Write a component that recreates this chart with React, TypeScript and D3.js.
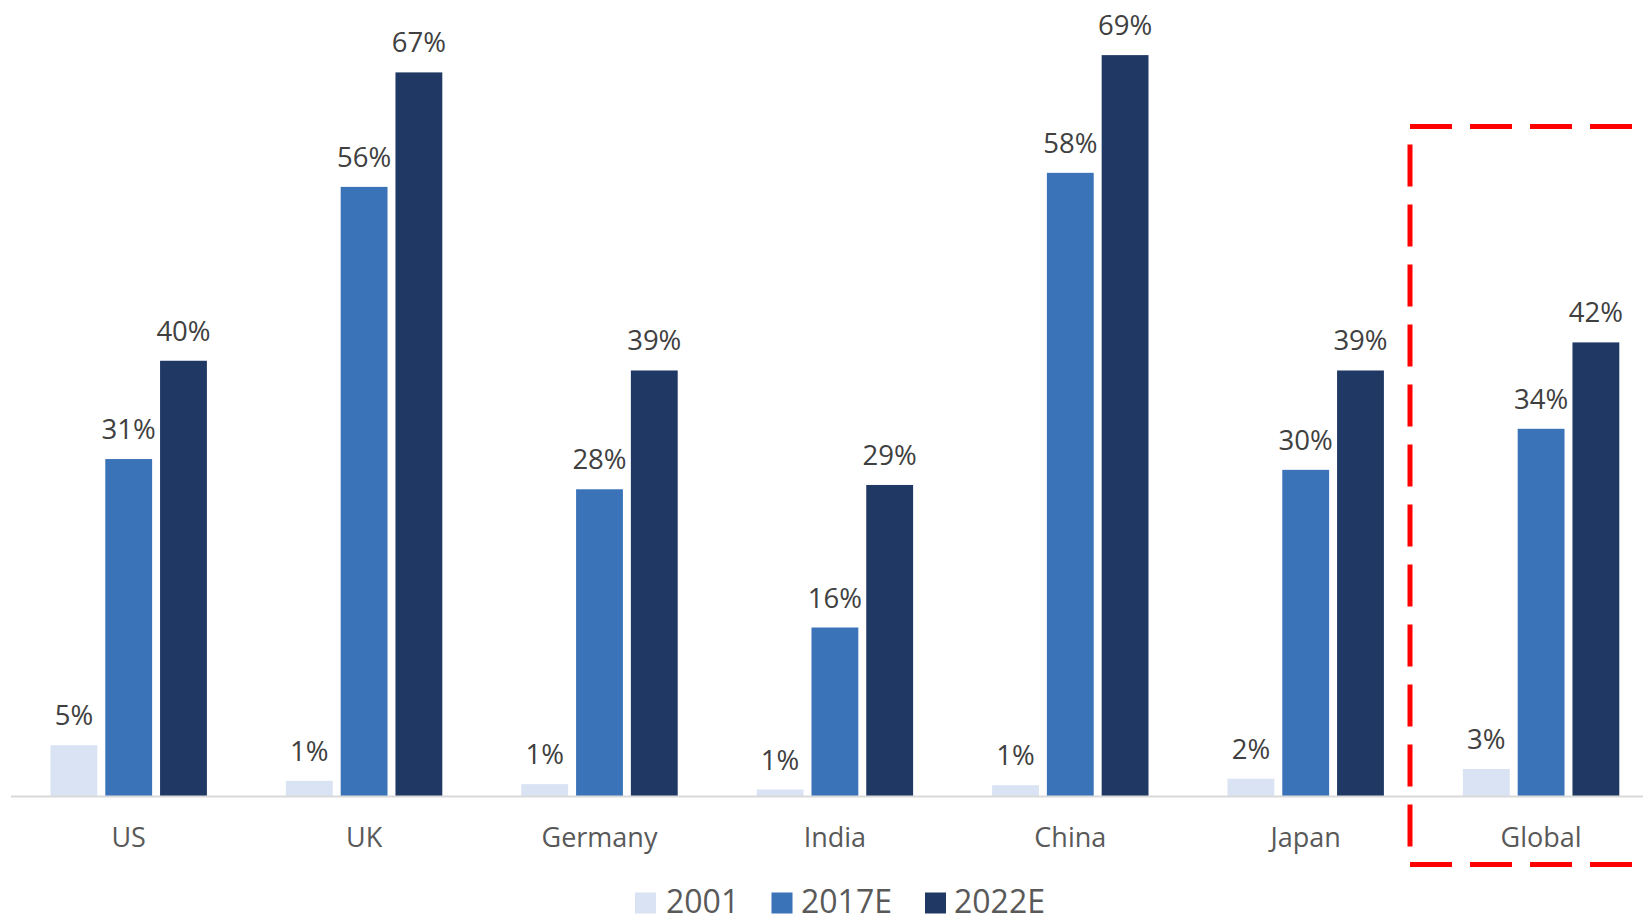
import React from "react";
import * as d3 from "d3";

const categories = ["US", "UK", "Germany", "India", "China", "Japan", "Global"];
const seriesNames = ["2001", "2017E", "2022E"];
const values2001 = [4.7, 1.4, 1.1, 0.6, 1.0, 1.6, 2.5];
const values2017E = [31.2, 56.4, 28.4, 15.6, 57.7, 30.2, 34.0];
const values2022E = [40.3, 67.0, 39.4, 28.8, 68.6, 39.4, 42.0];
const labels2001 = ["5%", "1%", "1%", "1%", "1%", "2%", "3%"];
const labels2017E = ["31%", "56%", "28%", "16%", "58%", "30%", "34%"];
const labels2022E = ["40%", "67%", "39%", "29%", "69%", "39%", "42%"];
const colors = ["#DAE3F3", "#3B73B9", "#1F3864"];

const W = 1643;
const H = 916;
const baseY = 796;

export default function App() {
  const series = [values2001, values2017E, values2022E];
  const labels = [labels2001, labels2017E, labels2022E];

  const x0 = d3.scaleBand<string>().domain(categories).range([11, 11 + 7 * 235.4]).paddingInner(0).paddingOuter(0);
  const x1 = d3
    .scaleBand<string>()
    .domain(seriesNames)
    .range([x0.bandwidth() / 2 - 78.2, x0.bandwidth() / 2 + 78.2])
    .paddingInner(0.145)
    .paddingOuter(0);
  const y = d3.scaleLinear().domain([0, 70]).range([baseY, baseY - 70 * 10.8]);

  const font = "'Open Sans', 'Noto Sans', sans-serif";

  const legendItems = [
    { name: "2001", sq: 635, tx: 666 },
    { name: "2017E", sq: 771.5, tx: 801 },
    { name: "2022E", sq: 925, tx: 954 },
  ];

  return (
    <svg
      width={W}
      height={H}
      style={{ position: "absolute", left: 0, top: 0, background: "#fff" }}
    >
      <rect x={0} y={0} width={W} height={H} fill="#fff" />
      {categories.map((c, ci) => (
        <g key={c} transform={`translate(${x0(c)},0)`}>
          {seriesNames.map((s, si) => {
            const v = series[si][ci];
            const bx = x1(s)!;
            const bw = x1.bandwidth();
            return (
              <g key={s}>
                <rect
                  x={bx}
                  y={y(v)}
                  width={bw}
                  height={baseY - y(v)}
                  fill={colors[si]}
                />
                <text
                  x={bx + bw / 2}
                  y={y(v) - 20}
                  textAnchor="middle"
                  fontFamily={font}
                  fontSize={27.5}
                  fill="#404040"
                >
                  {labels[si][ci]}
                </text>
              </g>
            );
          })}
          <text
            x={x0.bandwidth() / 2}
            y={847}
            textAnchor="middle"
            fontFamily={font}
            fontSize={27}
            fill="#595959"
          >
            {c}
          </text>
        </g>
      ))}
      <line x1={11} x2={W} y1={baseY + 0.5} y2={baseY + 0.5} stroke="#D9D9D9" strokeWidth={2} />

      <path
        d={`M 1632 126.5 H 1410 V 864.5 H 1632`}
        fill="none"
        stroke="#FF0000"
        strokeWidth={5}
        strokeDasharray="42 18"
      />

      {legendItems.map((l, i) => (
        <g key={l.name}>
          <rect x={l.sq} y={892.5} width={21} height={21} fill={colors[i]} />
          <text x={l.tx} y={913} fontFamily={font} fontSize={32} fill="#595959">
            {seriesNames[i]}
          </text>
        </g>
      ))}
    </svg>
  );
}
